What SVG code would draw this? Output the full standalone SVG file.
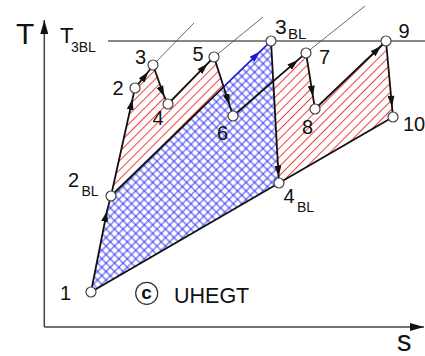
<svg xmlns="http://www.w3.org/2000/svg" width="425" height="356" viewBox="0 0 425 356">
<style>
text{font-family:"Liberation Sans",Arial,sans-serif;fill:#111}
.lbl{font-size:20px}
.sub{font-size:14px}
.ln{stroke:#111;stroke-width:1.8;fill:none;stroke-linejoin:round}
.thin{stroke:#444;stroke-width:0.8;fill:none}
.pt{fill:#fff;stroke:#444;stroke-width:1.2}
.axis{stroke:#444;stroke-width:1.5;fill:none}
</style>
<defs>
<pattern id="red" patternUnits="userSpaceOnUse" width="6.5" height="6.5" patternTransform="rotate(-45)">
<line x1="0" y1="3.25" x2="6.5" y2="3.25" stroke="#f03c3c" stroke-width="1"/>
</pattern>
<pattern id="blue" patternUnits="userSpaceOnUse" width="6" height="6" patternTransform="rotate(45)">
<line x1="0" y1="3" x2="6" y2="3" stroke="#2020f0" stroke-width="0.9"/>
<line x1="3" y1="0" x2="3" y2="6" stroke="#2020f0" stroke-width="0.9"/>
</pattern>
<marker id="ar" markerUnits="userSpaceOnUse" markerWidth="11" markerHeight="7" refX="11" refY="3.5" orient="auto">
<path d="M0,0 L11,3.5 L0,7 z" fill="#111"/>
</marker>
<marker id="arb" markerUnits="userSpaceOnUse" markerWidth="11" markerHeight="7" refX="11" refY="3.5" orient="auto">
<path d="M0,0 L11,3.5 L0,7 z" fill="#1a1acc"/>
</marker>
<marker id="ax" markerUnits="userSpaceOnUse" markerWidth="14" markerHeight="8" refX="14" refY="4" orient="auto">
<path d="M0,0 L14,4 L0,8 z" fill="#111"/>
</marker>
</defs>

<g id="axes">
<path class="axis" d="M44.3,327 L44.3,20" marker-end="url(#ax)"/>
<path class="axis" d="M44.3,327 L424,327" marker-end="url(#ax)"/>
<text x="16" y="44" style="font-size:30px">T</text>
<text x="397" y="351" style="font-size:29px">s</text>
<text x="60" y="43" style="font-size:22px">T<tspan class="sub" x="71" y="52">3BL</tspan></text>
<line x1="108" y1="41" x2="425" y2="41" stroke="#111" stroke-width="1"/>
</g>

<g id="areas">
<polygon points="91,292 111,196 271,41 279,183" fill="url(#blue)"/>
<polygon points="111,196 135,88 153,65 168,104 214,57 223.6,86.9" fill="url(#red)"/>
<polygon points="273.3,81.2 306,53 315,109 386,41 393,117 279,183" fill="url(#red)"/>
</g>

<g id="connectors">
<line class="thin" x1="153" y1="65" x2="194" y2="23"/>
<line class="thin" x1="214" y1="57" x2="263" y2="17"/>
<line class="thin" x1="306" y1="53" x2="365" y2="6"/>
<path class="ln" d="M91,292 L107,211 L111,196" marker-mid="url(#ar)"/>
<path class="ln" d="M111,196 L132.5,99 L135,88" marker-mid="url(#ar)"/>
<path class="ln" d="M135,88 L148.3,71.7 L153,65" marker-mid="url(#ar)"/>
<path class="ln" d="M153,65 L164.3,96.7 L168,104" marker-mid="url(#ar)"/>
<path class="ln" d="M168,104 L207.5,63.7 L214,57" marker-mid="url(#ar)"/>
<path class="ln" d="M214,57 L229.5,105 L233,116" marker-mid="url(#ar)"/>
<path class="ln" d="M111,196 L223.6,86.9"/>
<path d="M223.6,86.9 L260,51.6 L271,41" fill="none" stroke="#1a1acc" stroke-width="1.6" marker-mid="url(#arb)"/>
<path class="ln" d="M233,116 L298,59.9 L306,53" marker-mid="url(#ar)"/>
<path class="ln" d="M271,41 L278.6,176.5 L279,183" marker-mid="url(#ar)"/>
<path class="ln" d="M306,53 L313,96.7 L315,109" marker-mid="url(#ar)"/>
<path class="ln" d="M315,109 L381,46 L386,41" marker-mid="url(#ar)"/>
<path class="ln" d="M386,41 L392,106.7 L393,117" marker-mid="url(#ar)"/>
<path class="ln" d="M393,117 L279,183 L91,292"/>
</g>

<g id="n1"><circle class="pt" cx="91" cy="292" r="5"/><text class="lbl" x="60" y="300">1</text></g>
<g id="n2bl"><circle class="pt" cx="111" cy="196" r="5"/><text class="lbl" x="68" y="187">2<tspan class="sub" x="81.5" y="196">BL</tspan></text></g>
<g id="n2"><circle class="pt" cx="135" cy="88" r="5"/><text class="lbl" x="112.5" y="95">2</text></g>
<g id="n3"><circle class="pt" cx="153" cy="65" r="5"/><text class="lbl" x="135" y="63.5">3</text></g>
<g id="n4"><circle class="pt" cx="168" cy="104" r="5"/><text class="lbl" x="152.5" y="124.5">4</text></g>
<g id="n5"><circle class="pt" cx="214" cy="57" r="5"/><text class="lbl" x="192.5" y="61">5</text></g>
<g id="n6"><circle class="pt" cx="233" cy="116" r="5"/><text class="lbl" x="217" y="139.5">6</text></g>
<g id="n3bl"><circle class="pt" cx="271" cy="41" r="5"/><text class="lbl" x="275" y="33.5" style="font-size:21px">3<tspan x="288" y="38.5" style="font-size:15px">BL</tspan></text></g>
<g id="n7"><circle class="pt" cx="306" cy="53" r="5"/><text class="lbl" x="319" y="64">7</text></g>
<g id="n8"><circle class="pt" cx="315" cy="109" r="5"/><text class="lbl" x="302" y="133.5">8</text></g>
<g id="n9"><circle class="pt" cx="386" cy="41" r="5"/><text class="lbl" x="398.5" y="37.5">9</text></g>
<g id="n10"><circle class="pt" cx="393" cy="117" r="5"/><text class="lbl" x="403" y="131">10</text></g>
<g id="n4bl"><circle class="pt" cx="279" cy="183" r="5"/><text class="lbl" x="283.5" y="203">4<tspan class="sub" x="297" y="211.5">BL</tspan></text></g>

<g id="mark">
<circle cx="146.7" cy="293.3" r="11" fill="none" stroke="#333" stroke-width="1.2"/>
<text x="146.5" y="298.5" text-anchor="middle" style="font-size:19px;font-weight:bold">c</text>
<text x="174" y="302.7" style="font-size:21.5px">UHEGT</text>
</g>
</svg>
